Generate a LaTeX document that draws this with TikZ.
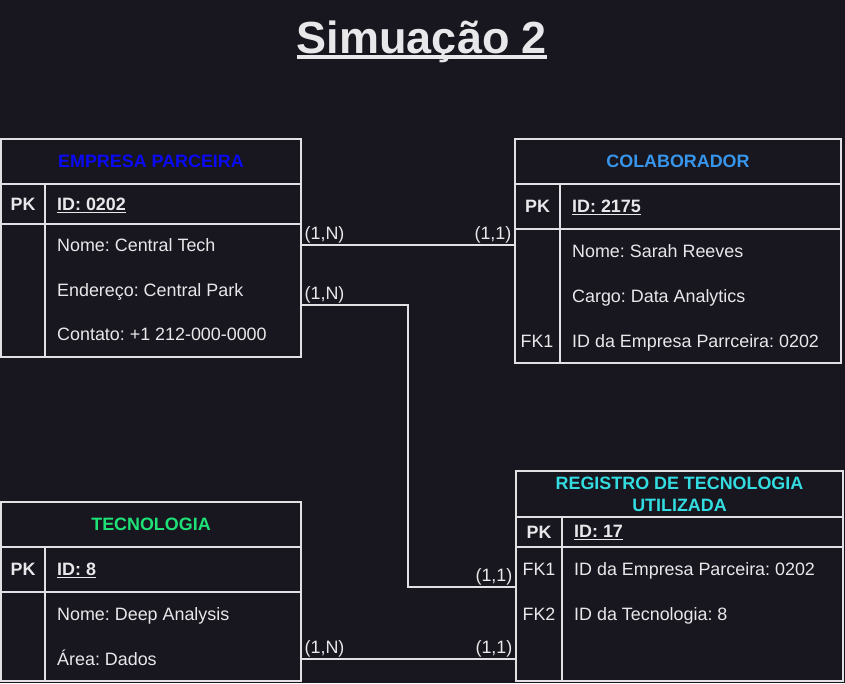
\documentclass[tikz,border=0pt]{standalone}
\usepackage{fontspec}
\setmainfont{Liberation Sans}
\usepackage{tikz}
\usetikzlibrary{positioning}
\definecolor{bgcol}{RGB}{24,22,30}
\definecolor{edgecol}{RGB}{225,225,228}
\definecolor{txtcol}{RGB}{232,232,235}
\definecolor{empcol}{RGB}{10,10,245}
\definecolor{colcol}{RGB}{55,150,235}
\definecolor{teccol}{RGB}{30,225,120}
\definecolor{regcol}{RGB}{50,220,225}
\newcommand{\fsz}{\fontsize{17.9}{22}\selectfont}
\newsavebox{\ulsave}
% underlined text: depth, thickness, text
\newcommand{\ultext}[3]{\sbox{\ulsave}{#3}\rlap{\usebox{\ulsave}}\rule[-#1]{\wd\ulsave}{#2}}
\frenchspacing
\tikzstyle{cell} = [draw=edgecol, line width=1.3pt, anchor=north west, inner sep=0pt, outer sep=0pt]
\tikzstyle{head} = [cell, font=\fsz\bfseries, align=center]
\tikzstyle{key} = [cell, font=\fsz\bfseries, text=txtcol]
\tikzstyle{field} = [anchor=base west, font=\fsz, text=txtcol, inner sep=0pt]
\tikzstyle{fkey} = [font=\fsz, text=txtcol, inner sep=0pt]
\tikzstyle{card} = [font=\fsz, text=txtcol, inner xsep=3pt, inner ysep=1.5pt]
\tikzstyle{link} = [draw=edgecol, line width=1.3pt]

\begin{document}
\begin{tikzpicture}[x=1pt, y=-1pt]
		\fill [bgcol] (0,0) rectangle (845,683);
		\useasboundingbox (0,0) rectangle (845,683);
		
		\node (title) [text=txtcol, anchor=base] at (422,53.5) {\fontsize{45}{50}\selectfont\bfseries\ultext{5.5pt}{3.8pt}{Simuação 2}};
		
		% empresa parceira
		\node (emphead) [head, minimum width=300, minimum height=45, text=empcol] at (1,139) {EMPRESA PARCEIRA};
		\node (emppk) [key, minimum width=44, minimum height=40] at (1,184) {PK};
		\node (emppkfield) [cell, minimum width=256, minimum height=40] at (45,184) {};
		\node (empbodykey) [cell, minimum width=44, minimum height=133] at (1,224) {};
		\node (empbody) [cell, minimum width=256, minimum height=133] at (45,224) {};
		\node (empid) [field] at (57,210) {\bfseries\ultext{3pt}{1.5pt}{ID: 0202}};
		\node (empnome) [field] at (57,251) {Nome: Central Tech};
		\node (empend) [field] at (57,296) {Endereço: Central Park};
		\node (empcont) [field] at (57,340) {Contato: +1 212-000-0000};
		
		% colaborador
		\node (colhead) [head, minimum width=326, minimum height=45, text=colcol] at (515,139) {COLABORADOR};
		\node (colpk) [key, minimum width=45, minimum height=45] at (515,184) {PK};
		\node (colpkfield) [cell, minimum width=281, minimum height=45] at (560,184) {};
		\node (colbodykey) [cell, minimum width=45, minimum height=134] at (515,229) {};
		\node (colbody) [cell, minimum width=281, minimum height=134] at (560,229) {};
		\node (colid) [field] at (572,212) {\bfseries\ultext{3pt}{1.5pt}{ID: 2175}};
		\node (colnome) [field] at (572,257) {Nome: Sarah Reeves};
		\node (colcargo) [field] at (572,302) {Cargo: Data Analytics};
		\node (colfkid) [field] at (572,347) {ID da Empresa Parrceira: 0202};
		\node (colfk) [fkey] at (537,341) {FK1};
		
		% tecnologia
		\node (techead) [head, minimum width=300, minimum height=45, text=teccol] at (1,502) {TECNOLOGIA};
		\node (tecpk) [key, minimum width=44, minimum height=45] at (1,547) {PK};
		\node (tecpkfield) [cell, minimum width=256, minimum height=45] at (45,547) {};
		\node (tecbodykey) [cell, minimum width=44, minimum height=89] at (1,592) {};
		\node (tecbody) [cell, minimum width=256, minimum height=89] at (45,592) {};
		\node (tecid) [field] at (57,575) {\bfseries\ultext{3pt}{1.5pt}{ID: 8}};
		\node (tecnome) [field] at (57,620) {Nome: Deep Analysis};
		\node (tecarea) [field] at (57,665) {Área: Dados};
		
		% registro de tecnologia utilizada
		\node (reghead) [head, minimum width=327, minimum height=46, text=regcol] at (516,471) {REGISTRO DE TECNOLOGIA\\UTILIZADA};
		\node (regpk) [key, minimum width=46, minimum height=30] at (516,517) {PK};
		\node (regpkfield) [cell, minimum width=281, minimum height=30] at (562,517) {};
		\node (regbodykey) [cell, minimum width=46, minimum height=134] at (516,547) {};
		\node (regbody) [cell, minimum width=281, minimum height=134] at (562,547) {};
		\node (regid) [field] at (574,537) {\bfseries\ultext{3pt}{1.5pt}{ID: 17}};
		\node (regemp) [field] at (574,575) {ID da Empresa Parceira: 0202};
		\node (regtec) [field] at (574,620) {ID da Tecnologia: 8};
		\node (regfk1) [fkey] at (539,569) {FK1};
		\node (regfk2) [fkey] at (539,614) {FK2};
		
		\coordinate (link1) at (301,245);
		\coordinate (bend1) at (408,305);
		\coordinate (bend2) at (408,587);
		\coordinate (link3) at (301,659);
		
		\draw [link] (empbody.east |- link1) -- node [card, pos=0, anchor=south west] {(1,N)} node [card, pos=1, anchor=south east] {(1,1)} (colbodykey.west |- link1);
		\draw [link] (empbody.east |- bend1) -- node [card, pos=0, anchor=south west] {(1,N)} (bend1) -- (bend2) -- node [card, pos=1, anchor=south east] {(1,1)} (regbodykey.west |- bend2);
		\draw [link] (tecbody.east |- link3) -- node [card, pos=0, anchor=south west] {(1,N)} node [card, pos=1, anchor=south east] {(1,1)} (regbodykey.west |- link3);
		\end{tikzpicture}
\end{document}
